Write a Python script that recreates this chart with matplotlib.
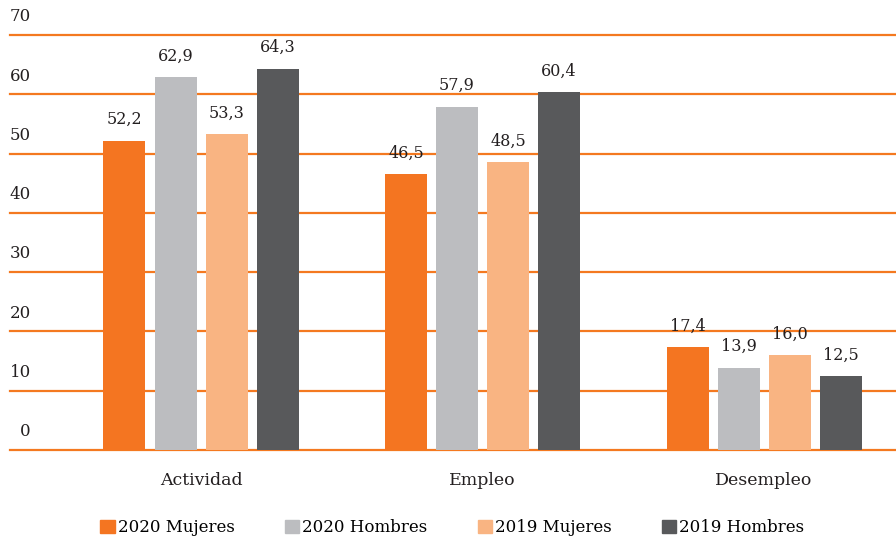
import numpy as np
import matplotlib.pyplot as plt
from matplotlib.patches import Patch

categories = ["Actividad", "Empleo", "Desempleo"]
series = ["2020 Mujeres", "2020 Hombres", "2019 Mujeres", "2019 Hombres"]
mujeres_2020 = [52.2, 46.5, 17.4]
hombres_2020 = [62.9, 57.9, 13.9]
mujeres_2019 = [53.3, 48.5, 16.0]
hombres_2019 = [64.3, 60.4, 12.5]
yticks = [0, 10, 20, 30, 40, 50, 60, 70]

colors = ["#F47521", "#BCBDC0", "#F9B482", "#58595B"]
orange = "#F47920"
txt = "#231F20"

plt.rcParams['font.family'] = ['DejaVu Serif']

fig = plt.figure(figsize=(8.96, 5.38), dpi=100)
ax = fig.add_axes([10 / 896, 88 / 538, 886 / 896, 415 / 538])

x = np.arange(len(categories))
width = 42 / 281.5
step = 51 / 281.5
data = [mujeres_2020, hombres_2020, mujeres_2019, hombres_2019]

for i, vals in enumerate(data):
    pos = x + (i - 1.5) * step
    ax.bar(pos, vals, width, color=colors[i], zorder=3)
    for p, v in zip(pos, vals):
        ax.annotate(f"{v:.1f}".replace(".", ","), (p, v), xytext=(0, 9),
                    textcoords="offset points", ha="center", va="bottom",
                    fontsize=11.5, color=txt)

for t in yticks:
    ax.axhline(t, color=orange, lw=1.6, zorder=2, clip_on=False)
    ax.annotate(str(t), (0, t), xycoords=("axes fraction", "data"),
                xytext=(15, 7), textcoords="offset points", ha="right",
                va="bottom", fontsize=12, color=txt)

ax.set_xlim((10 - 201) / 281.5, (896 - 201) / 281.5)
ax.set_ylim(0, 70)
ax.set_xticks(x)
ax.set_xticklabels(categories, fontsize=12.5, color=txt)
ax.tick_params(axis="x", length=0, pad=16)
ax.set_yticks([])
for s in ax.spines.values():
    s.set_visible(False)

handles = [Patch(color=c) for c in colors]
fig.legend(handles, series, loc="lower center", bbox_to_anchor=(0.505, -0.025),
           ncol=4, frameon=False, fontsize=12, handlelength=0.85,
           handleheight=0.85, handletextpad=0.2, columnspacing=3.0)

fig.savefig("out.png", dpi=100)
